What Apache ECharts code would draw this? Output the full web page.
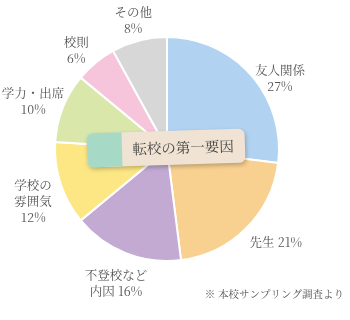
<!DOCTYPE html>
<html>
<head>
<meta charset="utf-8">
<script src="https://cdn.jsdelivr.net/npm/echarts@6/dist/echarts.min.js"></script>
<style>
html,body{margin:0;padding:0;background:#fff;}
#c{width:350px;height:320px;}
</style>
</head>
<body>
<div id="c"></div>
<script>
// Data
var categories = ['友人関係', '先生', '不登校など内因', '学校の雰囲気', '学力・出席', '校則', 'その他'];
var labelNames = ['友人関係\n', '先生 ', '不登校など\n内因 ', '学校の\n雰囲気\n', '学力・出席\n', '校則\n', 'その他\n'];
var values = [27, 21, 16, 12, 10, 6, 8];
var colors = ['#b1d3f1', '#f8d08f', '#c2aad3', '#fce784', '#d9e7aa', '#f6c4db', '#d7d7d7'];
var titleText = '転校の第一要因';
var noteText = '※ 本校サンプリング調査より';

// label nudges (layout only)
var labelNudge = [[5, 24], [7, -9], [2, 0], [3, 8], [0, 5], [1, 12], [2, 11]];

var FONT = '"Noto Serif CJK JP", "Liberation Serif", "Noto Sans CJK JP", serif';

var mainData = categories.map(function (c, i) {
  return { name: c, value: values[i], itemStyle: { color: colors[i] } };
});
var labelData = categories.map(function (c, i) {
  return {
    name: c,
    value: values[i],
    label: { formatter: labelNames[i] + values[i] + '%', offset: labelNudge[i] }
  };
});

var chart = echarts.init(document.getElementById('c'), null, { renderer: 'canvas' });
chart.setOption({
  animation: false,
  backgroundColor: '#ffffff',
  series: [
    {
      type: 'pie',
      center: [167, 149],
      radius: [0, 112],
      startAngle: 90,
      clockwise: true,
      silent: true,
      label: { show: false },
      labelLine: { show: false },
      itemStyle: { borderColor: '#ffffff', borderWidth: 2 },
      data: mainData
    },
    {
      type: 'pie',
      center: [167, 149],
      radius: [114, 168],
      startAngle: 90,
      clockwise: true,
      silent: true,
      itemStyle: { color: 'rgba(0,0,0,0)' },
      label: {
        show: true,
        position: 'inside',
        color: '#555555',
        fontSize: 12.5,
        lineHeight: 16,
        fontFamily: FONT,
        align: 'center'
      },
      labelLine: { show: false },
      data: labelData
    }
  ],
  graphic: [
    {
      type: 'group',
      x: 166,
      y: 148,
      z: 100,
      rotation: 0.03,
      children: [
        {
          type: 'rect',
          z: 100,
          shape: { x: -79, y: -17, width: 158, height: 34, r: 6 },
          style: {
            fill: '#f0e3d3',
            shadowBlur: 4,
            shadowOffsetX: 1,
            shadowOffsetY: 2,
            shadowColor: 'rgba(0,0,0,0.25)'
          }
        },
        {
          type: 'rect',
          z: 101,
          shape: { x: -79, y: -17, width: 35, height: 34, r: [6, 0, 0, 6] },
          style: { fill: '#a7d9c7' }
        },
        {
          type: 'text',
          z: 102,
          x: 17,
          y: 0,
          style: {
            text: titleText,
            fill: '#444444',
            font: '14.5px ' + FONT,
            align: 'center',
            verticalAlign: 'middle'
          }
        }
      ]
    },
    {
      type: 'text',
      z: 100,
      right: 6,
      top: 289,
      style: {
        text: noteText,
        fill: '#555555',
        font: '10.5px ' + FONT
      }
    }
  ]
});
</script>
</body>
</html>
